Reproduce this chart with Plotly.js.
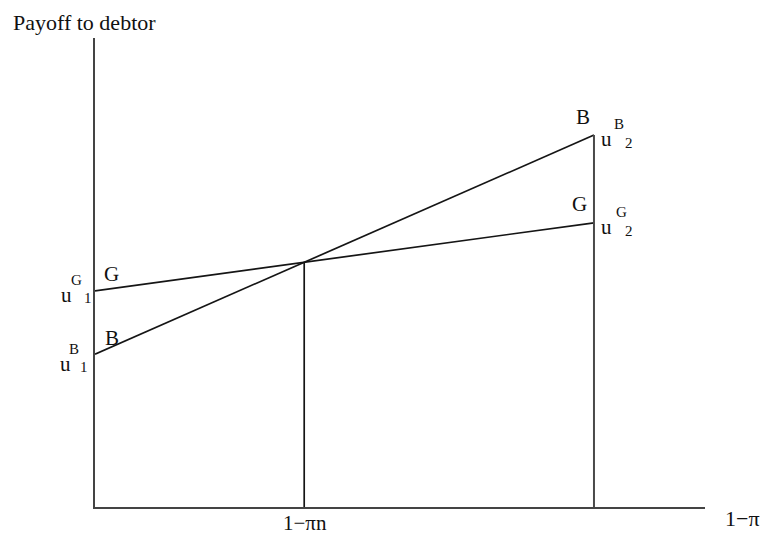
<!DOCTYPE html>
<html>
<head>
<meta charset="utf-8">
<script src="https://cdn.plot.ly/plotly-3.0.1.min.js"></script>
<style>html,body{margin:0;padding:0;background:#fff}#chart{width:765px;height:535px}</style>
</head>
<body>
<div id="chart"></div>
<script>
// Share variable 1-pi on the horizontal axis (0 .. 1 across the drawn axis)
const xEnds = [0, 0.818];            // left axis and right reference point
const payoffG = [0.461, 0.606];       // u^G_1, u^G_2
const payoffB = [0.326, 0.793];       // u^B_1, u^B_2
const lineNames = ['G', 'B'];
const axisLabels = ['1−πn', '1−π'];
const yTitle = 'Payoff to debtor';

// crossing point of the two payoff lines
const slopeG = (payoffG[1] - payoffG[0]) / (xEnds[1] - xEnds[0]);
const slopeB = (payoffB[1] - payoffB[0]) / (xEnds[1] - xEnds[0]);
const xCross = (payoffG[0] - payoffB[0]) / (slopeB - slopeG);
const yCross = payoffG[0] + slopeG * xCross;

const ink = '#151515';
const traces = [
  {x: xEnds, y: payoffG, mode: 'lines', line: {color: ink, width: 1.7}, hoverinfo: 'skip'},
  {x: xEnds, y: payoffB, mode: 'lines', line: {color: ink, width: 1.7}, hoverinfo: 'skip'},
  {x: [xCross, xCross], y: [0, yCross], mode: 'lines', line: {color: ink, width: 1.7}, hoverinfo: 'skip'},
  {x: [xEnds[1], xEnds[1]], y: [0, payoffB[1]], mode: 'lines', line: {color: '#4a4a4a', width: 2}, hoverinfo: 'skip'}
];

const F = 'Liberation Serif, Times New Roman, serif';
const L = 95, R = 705, T = 38, B = 507;
const px = v => (v - L) / (R - L);
const py = v => (B - v) / (B - T);
function txt(t, x, y, size, xa) {
  return {text: t, xref: 'paper', yref: 'paper', x: px(x), y: py(y), showarrow: false,
          xanchor: xa || 'center', yanchor: 'middle', font: {family: F, size: size, color: '#111'}};
}
const big = 21, small = 15;
const annotations = [
  txt(yTitle, 11, 22, 22, 'left'),
  // left labels
  txt('u', 66, 295, big), txt(lineNames[0], 76, 280, small), txt('1', 88, 298, small),
  txt(lineNames[0], 111, 274, big),
  txt('u', 65, 364, big), txt(lineNames[1], 74, 349, small), txt('1', 84, 367, small),
  txt(lineNames[1], 112, 338, big),
  // right labels
  txt(lineNames[1], 583, 117, big),
  txt('u', 606, 139, big), txt(lineNames[1], 619, 124, small), txt('2', 629, 143, small),
  txt(lineNames[0], 579, 204, big),
  txt('u', 606, 227, big), txt(lineNames[0], 621, 212, small), txt('2', 629, 231, small),
  // axis labels
  txt(axisLabels[0], 305, 523, 21),
  txt(axisLabels[1], 742, 518, 22)
];

const layout = {
  width: 765, height: 535,
  margin: {l: L, r: 765 - R, t: T, b: 535 - B, pad: 0},
  paper_bgcolor: '#fff', plot_bgcolor: '#fff',
  showlegend: false,
  xaxis: {range: [0, 1], showline: true, linecolor: '#444', linewidth: 2, showgrid: false,
          zeroline: false, showticklabels: false, ticks: '', fixedrange: true},
  yaxis: {range: [0, 1], showline: true, linecolor: '#444', linewidth: 2, showgrid: false,
          zeroline: false, showticklabels: false, ticks: '', fixedrange: true},
  annotations: annotations
};
Plotly.newPlot('chart', traces, layout, {staticPlot: true});
</script>
</body>
</html>
